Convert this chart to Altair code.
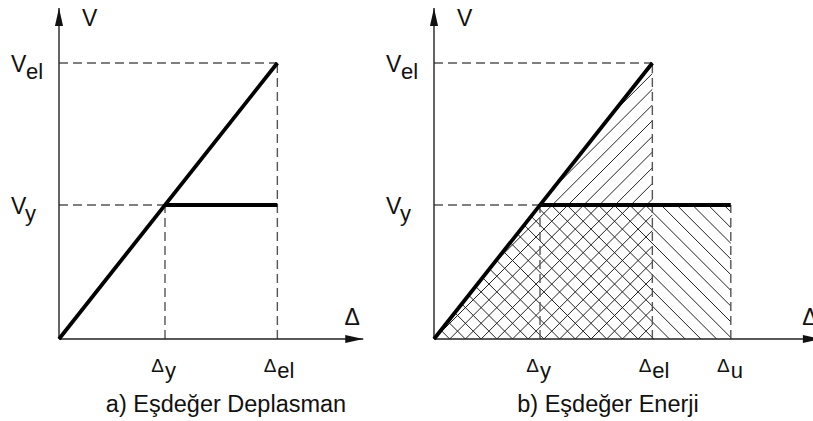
import altair as alt
import numpy as np
import pandas as pd

# Bilinear idealisation of the capacity curve, in normalised units
delta_y = 1.0     # Δy  : yield displacement
delta_el = 2.06   # Δel : displacement of the elastic system
delta_u = 2.8     # Δu  : ultimate displacement
v_y = 1.0         # Vy  : yield base shear
v_el = 2.06       # Vel : elastic base shear

y_axis_top = 2.47
x_axis_end = {"a": 2.87, "b": 3.65}
plateau_end = {"a": delta_el, "b": delta_u}
captions = {"a": "a) Eşdeğer Deplasman", "b": "b) Eşdeğer Enerji"}
caption_x = {"a": 226, "b": 233}

# Drawing geometry (pixels)
PX_X = 106.0      # pixels per displacement unit
PX_Y = 134.0      # pixels per shear unit
LEFT = 59         # x of the origin inside each panel
TOP = 339         # y of the origin inside each panel
H = 421
W = {"a": 375, "b": 438}
HATCH_STEP = 15.7
FONT = "Liberation Sans"
INK = "#111111"


def x_enc(panel, field="x"):
    return alt.X(
        f"{field}:Q",
        scale=alt.Scale(domain=[-LEFT / PX_X, (W[panel] - LEFT) / PX_X], nice=False, zero=False),
        axis=None,
    )


def y_enc(field="y"):
    return alt.Y(
        f"{field}:Q",
        scale=alt.Scale(domain=[-(H - TOP) / PX_Y, TOP / PX_Y], nice=False, zero=False),
        axis=None,
    )


def segments(rows):
    return pd.DataFrame(rows, columns=["x", "y", "x2", "y2"])


def rule_layer(df, panel, **style):
    return alt.Chart(df).mark_rule(clip=True, **style).encode(
        x=x_enc(panel), y=y_enc(), x2="x2:Q", y2="y2:Q"
    )


def clip_to_polygon(poly, normal, c):
    """Chord of the line normal·p = c inside a convex polygon (pixel space)."""
    pts = []
    n = len(poly)
    for i in range(n):
        p, q = np.array(poly[i]), np.array(poly[(i + 1) % n])
        fp = normal @ p - c
        fq = normal @ q - c
        if abs(fp) < 1e-9:
            pts.append(p)
        elif fp * fq < 0:
            t = fp / (fp - fq)
            pts.append(p + t * (q - p))
    if len(pts) < 2:
        return None
    direction = np.array([-normal[1], normal[0]])
    proj = [direction @ p for p in pts]
    a, b = pts[int(np.argmin(proj))], pts[int(np.argmax(proj))]
    if np.linalg.norm(b - a) < 0.5:
        return None
    return a, b


def hatch(poly_data, normal):
    poly = [(px * PX_X, py * PX_Y) for px, py in poly_data]
    normal = np.array(normal, dtype=float)
    vals = [normal @ np.array(p) for p in poly]
    k0 = int(np.floor(min(vals) / HATCH_STEP)) - 1
    k1 = int(np.ceil(max(vals) / HATCH_STEP)) + 1
    rows = []
    for k in range(k0, k1 + 1):
        seg = clip_to_polygon(poly, normal, k * HATCH_STEP)
        if seg is not None:
            (u1, v1), (u2, v2) = seg
            rows.append((u1 / PX_X, v1 / PX_Y, u2 / PX_X, v2 / PX_Y))
    return segments(rows)


def text_layer(rows, panel, size, align, dx, dy):
    df = pd.DataFrame(rows, columns=["x", "y", "t"])
    return alt.Chart(df).mark_text(
        font=FONT, fontSize=size, align=align, baseline="alphabetic",
        dx=dx, dy=dy, color=INK, clip=True,
    ).encode(x=x_enc(panel), y=y_enc(), text="t:N")


def panel_chart(panel):
    layers = []

    if panel == "b":
        # elastic energy triangle "/" and bilinear energy area "\"
        tri = [(0, 0), (delta_el, 0), (delta_el, v_el)]
        trap = [(0, 0), (delta_y, v_y), (delta_u, v_y), (delta_u, 0)]
        for df in (hatch(tri, (1, -1)), hatch(trap, (1, 1))):
            layers.append(rule_layer(df, panel, color="#222222", strokeWidth=1.0))

    dashed = [
        (0, v_el, delta_el, v_el),
        (0, v_y, delta_y, v_y),
        (delta_y, 0, delta_y, v_y),
        (delta_el, 0, delta_el, v_el),
    ]
    if panel == "b":
        dashed.append((delta_u, 0, delta_u, v_y))
    layers.append(rule_layer(segments(dashed), panel, color="#555555",
                             strokeWidth=1.4, strokeDash=[9, 5]))

    axes = [(0, 0, 0, y_axis_top), (0, 0, x_axis_end[panel], 0)]
    layers.append(rule_layer(segments(axes), panel, color="#222222", strokeWidth=1.4))

    arrows = pd.DataFrame({
        "x": [0, x_axis_end[panel]],
        "y": [y_axis_top, 0],
        "s": ["M0,0L0.45,2L-0.45,2Z", "M0,0L-2,-0.45L-2,0.45Z"],
    })
    layers.append(
        alt.Chart(arrows).mark_point(filled=True, size=324, color="#111111", opacity=1, clip=True)
        .encode(x=x_enc(panel), y=y_enc(), shape=alt.Shape("s:N", scale=None))
    )

    curve = [(0, 0, delta_el, v_el), (delta_y, v_y, plateau_end[panel], v_y)]
    layers.append(rule_layer(segments(curve), panel, color="#000000", strokeWidth=3.8))

    # V-axis labels
    layers.append(text_layer([(0, v_el, "V"), (0, v_y, "V")], panel, 23, "left", -48, 9))
    layers.append(text_layer([(0, v_el, "el")], panel, 22, "left", -33, 16))
    layers.append(text_layer([(0, v_y, "y")], panel, 22, "left", -34, 16))
    layers.append(text_layer([(0, y_axis_top, "V")], panel, 23, "left", 23, 18))

    # Δ-axis labels
    ticks = [(delta_y, 0, "y"), (delta_el, 0, "el")]
    if panel == "b":
        ticks.append((delta_u, 0, "u"))
    layers.append(text_layer([(x, y, "Δ") for x, y, _ in ticks], panel, 19, "right", -1, 33))
    layers.append(text_layer(ticks, panel, 22, "left", 0, 39))
    layers.append(text_layer([(x_axis_end[panel], 0, "Δ")], panel, 23, "center", -11, -14))

    cap = alt.Chart(pd.DataFrame({"t": [captions[panel]]})).mark_text(
        font=FONT, fontSize=23.5, align="center", baseline="alphabetic", color=INK
    ).encode(x=alt.value(caption_x[panel]), y=alt.value(412), text="t:N")
    layers.append(cap)

    return alt.layer(*layers).properties(width=W[panel], height=H)


chart = (
    alt.hconcat(panel_chart("a"), panel_chart("b"), spacing=0)
    .properties(padding=0, background="white")
    .configure_view(stroke=None)
)

chart.save("out.html", embed_options={"renderer": "svg", "actions": False})
